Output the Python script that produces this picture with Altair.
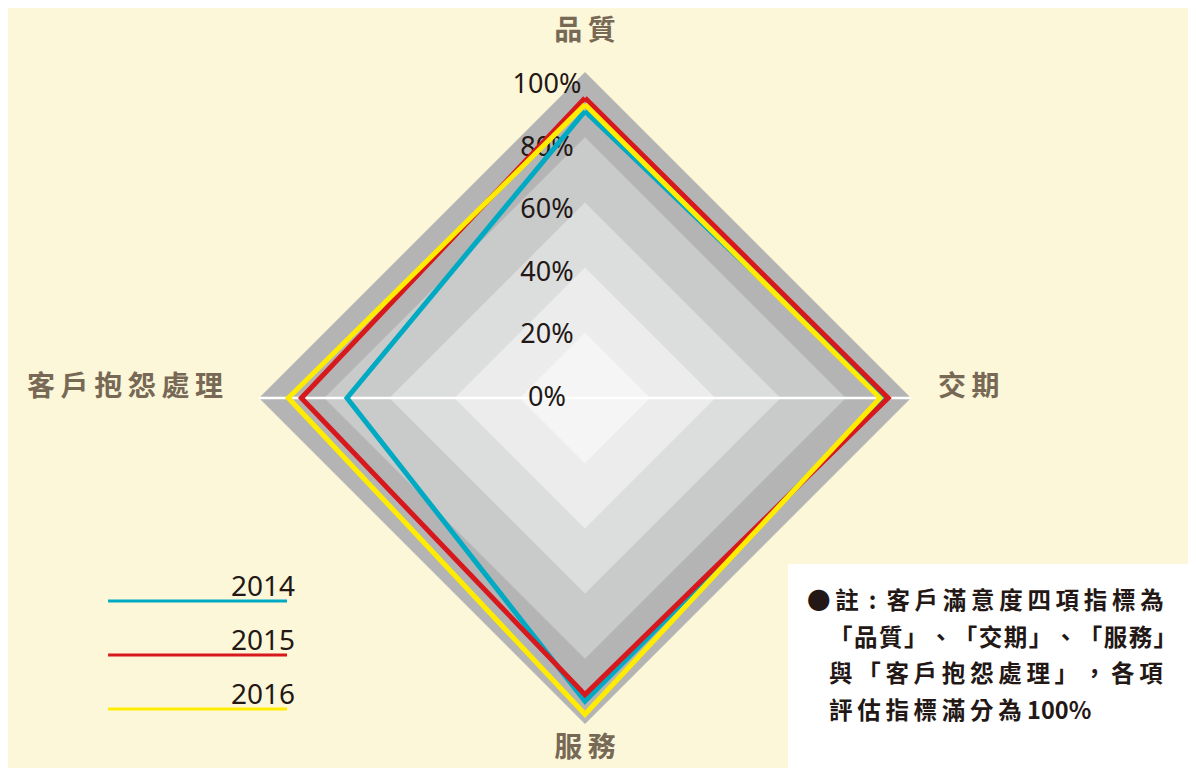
import altair as alt
import pandas as pd

# ---------------- data ----------------
CATEGORIES = ["品質", "交期", "服務", "客戶抱怨處理"]
YEARS = ["2014", "2015", "2016"]
V2014 = [88, 92, 93, 73]
V2015 = [92, 93, 91, 87]
V2016 = [90, 90.5, 97, 91]
TICKS = [0, 20, 40, 60, 80, 100]
TICK_LABELS = ["0%", "20%", "40%", "60%", "80%", "100%"]
BANDS = [100, 80, 60, 40, 20]
NOTE_LINES = [
    "●註 : 客戶滿意度四項指標為",
    "「品質」、「交期」、「服務」",
    "與「 客戶抱怨處理 」，各項",
    "評估指標滿分為 100%",
]

# ---------------- styles ----------------
BG = "#fcf7d9"
BAND_COLORS = ["#b4b4b5", "#c9caca", "#dcdddd", "#ececec", "#f5f5f5"]
LINE_COLORS = ["#00aac3", "#d7191e", "#ffec00"]
DARK = "#231815"
CAT_COLOR = "#776955"
CJK = "Noto Sans CJK TC"

W, H = 1180, 760
PX = 3.26            # pixels per data unit
CX, CY = 577, 390    # centre in view pixels
XS = alt.Scale(domain=[-CX / PX, (W - CX) / PX], nice=False, zero=False)
YS = alt.Scale(domain=[-(H - CY) / PX, CY / PX], nice=False, zero=False)


def X(f):
    return alt.X(f, scale=XS, axis=None)


def Y(f):
    return alt.Y(f, scale=YS, axis=None, stack=None)


def sp(s, ch="\u2009"):
    return ch.join(s)


# ---------------- tables ----------------
series_rows = []
for yr, vals in zip(YEARS, [V2014, V2015, V2016]):
    for i, v in enumerate(vals + [vals[0]]):
        series_rows.append({"year": yr, "i": i, "v": v})
series_df = pd.DataFrame(series_rows)

band_df = pd.DataFrame([{"r": r, "k": k} for r in BANDS for k in (-1, 0, 1)])
tick_df = pd.DataFrame({"v": TICKS, "label": TICK_LABELS})
cat_df = pd.DataFrame({"name": [sp(c) for c in CATEGORIES],
                       "i": list(range(len(CATEGORIES)))})
leg_df = pd.DataFrame({"year": YEARS, "j": list(range(len(YEARS)))})

note_first = "●\u2009註 \u2009:\u2009 " + sp("客戶滿意度四項指標為")
note_rest = "\n".join([
    sp(NOTE_LINES[1], "\u200a"),
    sp(NOTE_LINES[2].replace(" ", "")),
    sp("評估指標滿分為") + " 100%",
])
note_df = pd.DataFrame({"t": [note_first], "t2": [note_rest]})

layers = []

# background bands (diamonds)
for r, c in zip(BANDS, BAND_COLORS):
    layers.append(
        alt.Chart(band_df)
        .transform_filter(alt.datum.r == r)
        .transform_calculate(
            bx="datum.k * datum.r",
            by="datum.r - abs(datum.k * datum.r)",
            by2="-(datum.r - abs(datum.k * datum.r))",
        )
        .mark_area(color=c, interpolate="linear")
        .encode(x=X("bx:Q"), y=Y("by:Q"), y2="by2:Q")
    )

# white horizontal axis line
layers.append(
    alt.Chart(tick_df).transform_filter(alt.datum.v == 0)
    .transform_calculate(a="-100", b="100")
    .mark_rule(color="white", strokeWidth=2.5)
    .encode(x=X("a:Q"), x2="b:Q", y=Y("v:Q"))
)

# tick labels
layers.append(
    alt.Chart(tick_df)
    .transform_calculate(ty="datum.v * 0.96", tx="-11.66")
    .mark_text(align="center", baseline="middle", font="Noto Sans", fontSize=27, color=DARK)
    .encode(x=X("tx:Q"), y=Y("ty:Q"), text="label:N")
)

color_enc = alt.Color("year:N", scale=alt.Scale(domain=YEARS, range=LINE_COLORS), legend=None)

# series lines
layers.append(
    alt.Chart(series_df)
    .transform_calculate(
        px="datum.v * sin(datum.i * PI / 2)",
        py="datum.v * cos(datum.i * PI / 2)",
    )
    .mark_line(strokeWidth=5, strokeJoin="miter", strokeMiterLimit=10)
    .encode(x=X("px:Q"), y=Y("py:Q"), color=color_enc, order="i:Q", detail="year:N")
)

# category labels
cat_base = alt.Chart(cat_df).transform_calculate(
    lx="112 * sin(datum.i * PI / 2)", ly="112 * cos(datum.i * PI / 2)",
    sx="109.5 * sin(datum.i * PI / 2)",
)
cat_style = dict(font=CJK, fontSize=28, fontWeight="bold", color=CAT_COLOR, baseline="middle")
layers.append(
    cat_base.transform_filter("datum.i == 0")
    .mark_text(align="center", dy=-1, **cat_style)
    .encode(x=X("lx:Q"), y=Y("ly:Q"), text="name:N")
)
layers.append(
    cat_base.transform_filter("datum.i == 2")
    .mark_text(align="center", dy=-14, **cat_style)
    .encode(x=X("lx:Q"), y=Y("ly:Q"), text="name:N")
)
layers.append(
    cat_base.transform_filter("datum.i == 1")
    .mark_text(align="left", dy=-10, dx=-4, **cat_style)
    .encode(x=X("sx:Q"), y=Y("ly:Q"), text="name:N")
)
layers.append(
    cat_base.transform_filter("datum.i == 3")
    .mark_text(align="right", dy=-10, dx=-5, **cat_style)
    .encode(x=X("sx:Q"), y=Y("ly:Q"), text="name:N")
)

# custom legend
leg_base = alt.Chart(leg_df).transform_calculate(
    ly="-62.27 - datum.j * 16.56",
    ty="-62.27 - datum.j * 16.56 + 1.4",
    x0="-146.3", x1="-91.4", tx="-88.96",
)
layers.append(
    leg_base.mark_rule(strokeWidth=3)
    .encode(x=X("x0:Q"), x2="x1:Q", y=Y("ly:Q"), color=color_enc)
)
layers.append(
    leg_base.mark_text(align="right", baseline="alphabetic", font="Noto Sans", fontSize=28, color=DARK)
    .encode(x=X("tx:Q"), y=Y("ty:Q"), text="year:N")
)

# note box
layers.append(
    alt.Chart(note_df)
    .transform_calculate(a="62.3", b="190", c="-50.9", d="-120")
    .mark_rect(color="white")
    .encode(x=X("a:Q"), x2="b:Q", y=Y("c:Q"), y2="d:Q")
)
note_style = dict(align="left", baseline="alphabetic", lineBreak="\n", lineHeight=36.7,
                  font=CJK, fontSize=23.5, fontWeight="bold", color=DARK)
layers.append(
    alt.Chart(note_df)
    .transform_calculate(nx="68.1", ny="-64.7")
    .mark_text(**note_style)
    .encode(x=X("nx:Q"), y=Y("ny:Q"), text="t:N")
)
layers.append(
    alt.Chart(note_df)
    .transform_calculate(nx="74.85", ny="-64.7 - 36.7 / 3.26")
    .mark_text(**note_style)
    .encode(x=X("nx:Q"), y=Y("ny:Q"), text="t2:N")
)

chart = (
    alt.layer(*layers)
    .properties(width=W, height=H, background=BG, padding=0,
                autosize=alt.AutoSizeParams(type="none"))
    .configure_view(stroke=None)
)

chart.save("out.html", embed_options={"renderer": "svg", "actions": False})
